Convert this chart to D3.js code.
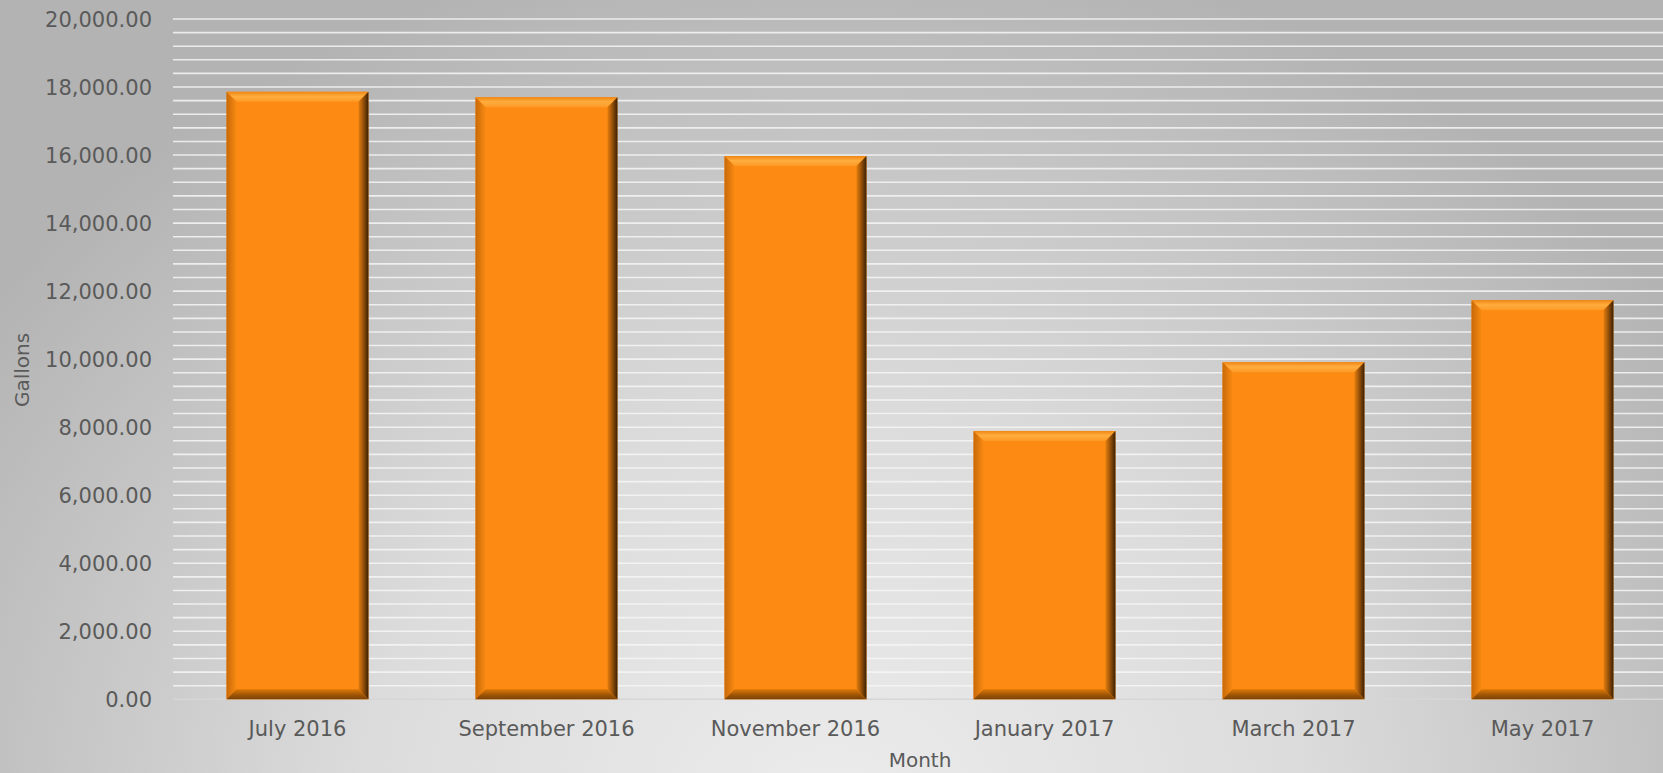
<!DOCTYPE html>
<html>
<head>
<meta charset="utf-8">
<script src="https://cdn.jsdelivr.net/npm/d3@7/dist/d3.min.js"></script>
<style>
  html, body { margin: 0; padding: 0; overflow: hidden; }
  svg { display: block; }
  text { font-family: "DejaVu Sans", Verdana, sans-serif; fill: #5a5a5a; }
</style>
</head>
<body>
<svg id="chart" width="1663" height="773"></svg>
<script>
// Monthly water usage, gallons
const months = ["July 2016", "September 2016", "November 2016", "January 2017", "March 2017", "May 2017"];
const gallons = [17860, 17700, 15970, 7890, 9910, 11730];
const yTickValues = [0, 2000, 4000, 6000, 8000, 10000, 12000, 14000, 16000, 18000, 20000];
const yMax = 20000;
const gridStep = 400;

(function draw() {
  const W = 1663, H = 773;
  const plotLeft = 173, plotRight = 1667, plotTop = 19, plotBottom = 699.3;

  const svg = d3.select("#chart");
  const defs = svg.append("defs");

  // Background: light radial glow rising from the bottom centre
  const bg = defs.append("radialGradient").attr("id", "bg")
    .attr("gradientUnits", "userSpaceOnUse")
    .attr("cx", W / 2).attr("cy", H * 1.05).attr("r", W * 0.62)
    .attr("gradientTransform", `translate(${W/2},${H*1.05}) scale(1,0.85) translate(${-W/2},${-H*1.05})`);
  bg.append("stop").attr("offset", "0%").attr("stop-color", "#ececec");
  bg.append("stop").attr("offset", "45%").attr("stop-color", "#dcdcdc");
  bg.append("stop").attr("offset", "100%").attr("stop-color", "#b3b3b3");
  svg.append("rect").attr("width", W).attr("height", H).attr("fill", "url(#bg)");

  // Bevel gradients
  function lin(id, x1, y1, x2, y2, stops) {
    const g = defs.append("linearGradient").attr("id", id)
      .attr("x1", x1).attr("y1", y1).attr("x2", x2).attr("y2", y2);
    stops.forEach(([o, c]) => g.append("stop").attr("offset", o).attr("stop-color", c));
  }
  lin("bevTop", 0, 0, 0, 1, [["0%", "#f08512"], ["45%", "#ffad3e"], ["100%", "#fd9a26"]]);
  lin("bevLeft", 0, 0, 1, 0, [["0%", "#c86908"], ["100%", "#f88a12"]]);
  lin("bevRight", 0, 0, 1, 0, [["0%", "#e57e0e"], ["50%", "#94500a"], ["100%", "#3a2004"]]);
  lin("bevBottom", 0, 0, 0, 1, [["0%", "#dc7808"], ["55%", "#a05606"], ["100%", "#7a4204"]]);

  const x = d3.scaleBand().domain(months).range([plotLeft, plotRight])
    .paddingInner(0.43).paddingOuter(0.215);
  const y = d3.scaleLinear().domain([0, yMax]).range([plotBottom, plotTop]);

  // Gridlines every 400 gallons
  svg.append("g").selectAll("line").data(d3.range(gridStep, yMax + 1, gridStep)).join("line")
    .attr("x1", plotLeft).attr("x2", W)
    .attr("y1", d => y(d)).attr("y2", d => y(d))
    .attr("stroke", "#f6f6f6").attr("stroke-opacity", 0.85).attr("stroke-width", 1.6);
  svg.append("line")
    .attr("x1", plotLeft).attr("x2", W).attr("y1", y(0)).attr("y2", y(0))
    .attr("stroke", "#d6d6d6").attr("stroke-width", 1.5);

  // Bars with bevelled edges
  const bev = 10;
  const bars = svg.append("g").selectAll("g")
    .data(months.map((m, i) => ({ m, v: gallons[i] }))).join("g");
  bars.each(function(d) {
    const g = d3.select(this);
    const x0 = x(d.m), x1 = x0 + x.bandwidth();
    const y0 = y(d.v), y1 = y(0);
    g.append("rect").attr("x", x0).attr("y", y0).attr("width", x1 - x0).attr("height", y1 - y0)
      .attr("fill", "#fd8a12");
    const poly = (pts, fill) => g.append("polygon")
      .attr("points", pts.map(p => p.join(",")).join(" ")).attr("fill", fill);
    poly([[x0, y0], [x1, y0], [x1 - bev, y0 + bev], [x0 + bev, y0 + bev]], "url(#bevTop)");
    poly([[x0, y0], [x0 + bev, y0 + bev], [x0 + bev, y1 - bev], [x0, y1]], "url(#bevLeft)");
    poly([[x1, y0], [x1, y1], [x1 - bev, y1 - bev], [x1 - bev, y0 + bev]], "url(#bevRight)");
    poly([[x0, y1], [x0 + bev, y1 - bev], [x1 - bev, y1 - bev], [x1, y1]], "url(#bevBottom)");
  });

  // Y axis tick labels
  svg.append("g").selectAll("text").data(yTickValues).join("text")
    .attr("x", 152).attr("y", d => y(d)).attr("dy", "0.36em")
    .attr("text-anchor", "end").attr("font-size", 21)
    .text(d => d3.format(",.2f")(d));

  // X axis category labels
  svg.append("g").selectAll("text").data(months).join("text")
    .attr("x", d => x(d) + x.bandwidth() / 2).attr("y", 736)
    .attr("text-anchor", "middle").attr("font-size", 21)
    .text(d => d);

  // Axis titles
  svg.append("text").attr("x", (plotLeft + plotRight) / 2).attr("y", 767)
    .attr("text-anchor", "middle").attr("font-size", 20).text("Month");
  svg.append("text").attr("transform", "translate(29,370) rotate(-90)")
    .attr("text-anchor", "middle").attr("font-size", 20).text("Gallons");
})();
</script>
</body>
</html>
